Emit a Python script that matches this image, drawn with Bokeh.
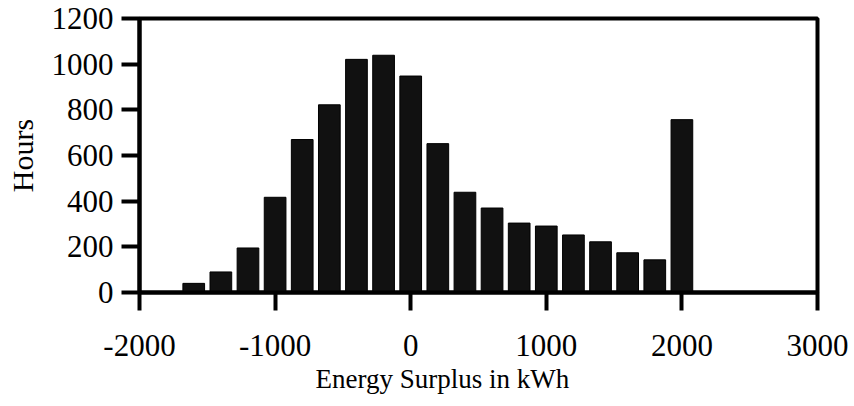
from bokeh.plotting import figure
from bokeh.models import FixedTicker, Range1d, Title
from bokeh.embed import file_html
from bokeh.resources import INLINE

# Data
surplus_kwh = [-1600, -1400, -1200, -1000, -800, -600, -400, -200, 0, 200,
               400, 600, 800, 1000, 1200, 1400, 1600, 1800, 2000]
hours = [40, 90, 195, 417, 670, 822, 1021, 1039, 948, 652,
         439, 370, 304, 291, 252, 222, 174, 143, 757]
bar_width = 160

x_ticks = [-2000, -1000, 0, 1000, 2000, 3000]
x_tick_labels = ["-2000", "-1000", "0", "1000", "2000", "3000"]
y_ticks = [0, 200, 400, 600, 800, 1000, 1200]
y_tick_labels = ["0", "200", "400", "600", "800", "1000", "1200"]
x_title = "Energy Surplus in kWh"
y_title = "Hours"

FONT = "Liberation Serif"

p = figure(width=854, height=406, output_backend="svg", toolbar_location=None,
           x_range=Range1d(-2000, 3000), y_range=Range1d(0, 1200))
p.min_border_left = 139
p.min_border_right = 37
p.min_border_top = 18
p.min_border_bottom = 114
p.background_fill_color = "white"
p.border_fill_color = "white"
p.grid.visible = False
p.outline_line_color = "black"
p.outline_line_width = 4

p.vbar(x=surplus_kwh, top=hours, width=bar_width, bottom=0,
       fill_color="#111111", line_color="black", line_width=1)

for ax in (p.xaxis[0], p.yaxis[0]):
    ax.axis_line_width = 4
    ax.axis_line_color = "black"
    ax.major_tick_line_width = 4
    ax.major_tick_line_color = "black"
    ax.major_tick_in = 0
    ax.minor_tick_line_color = None
    ax.major_label_text_font = FONT
    ax.major_label_text_font_size = "31px"
    ax.major_label_text_color = "black"
    ax.axis_label_text_font = FONT
    ax.axis_label_text_font_size = "30px"
    ax.axis_label_text_font_style = "normal"
    ax.axis_label_text_color = "black"

p.xaxis.ticker = FixedTicker(ticks=x_ticks)
p.xaxis.major_label_overrides = dict(zip(x_ticks, x_tick_labels))
p.xaxis.major_tick_out = 18
p.xaxis.major_label_standoff = 24

p.yaxis.ticker = FixedTicker(ticks=y_ticks)
p.yaxis.major_label_overrides = dict(zip(y_ticks, y_tick_labels))
p.yaxis.major_tick_out = 18
p.yaxis.major_label_standoff = 8
p.yaxis.axis_label = y_title
p.yaxis.axis_label_standoff = 10

# x-axis title, placed slightly left of centre as in the reference
p.add_layout(Title(text=x_title, align="left", offset=176,
                   text_font=FONT, text_font_size="27px",
                   text_font_style="normal", text_color="black",
                   standoff=7), "below")

open("out.html", "w").write(file_html(p, INLINE))
